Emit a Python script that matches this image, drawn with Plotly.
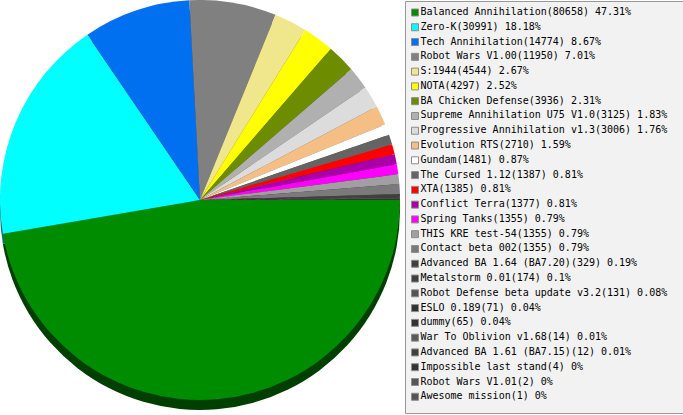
import plotly.graph_objects as go

games = ['Balanced Annihilation', 'Zero-K', 'Tech Annihilation', 'Robot Wars V1.00',
         'S:1944', 'NOTA', 'BA Chicken Defense', 'Supreme Annihilation U75 V1.0',
         'Progressive Annihilation v1.3', 'Evolution RTS', 'Gundam', 'The Cursed 1.12',
         'XTA', 'Conflict Terra', 'Spring Tanks', 'THIS KRE test-54', 'Contact beta 002',
         'Advanced BA 1.64 (BA7.20)', 'Metalstorm 0.01', 'Robot Defense beta update v3.2',
         'ESLO 0.189', 'dummy', 'War To Oblivion v1.68', 'Advanced BA 1.61 (BA7.15)',
         'Impossible last stand', 'Robot Wars V1.01', 'Awesome mission']
counts = [80658, 30991, 14774, 11950, 4544, 4297, 3936, 3125, 3006, 2710, 1481, 1387,
          1385, 1377, 1355, 1355, 1355, 329, 174, 131, 71, 65, 14, 12, 4, 2, 1]
colors = ['#008c00', '#00ffff', '#0070f0', '#808080', '#f0e68c', '#ffff00', '#6e8c00',
          '#b0b0b0', '#dcdcdc', '#f5be85', '#ffffff', '#646464', '#ff0000', '#aa00aa',
          '#ff00ff', '#a0a0a0', '#7a7a7a', '#404040', '#404040', '#555555', '#333333',
          '#333333', '#5a5a5a', '#404040', '#333333', '#555555', '#555555']


def darken(c, f=0.45):
    r, g, b = (int(c[i:i + 2], 16) for i in (1, 3, 5))
    return '#%02x%02x%02x' % (int(r * f), int(g * f), int(b * f))


total = sum(counts)
labels = ['%s(%d) %s%%' % (g, n, format(round(n / total * 100, 2), 'g'))
          for g, n in zip(games, counts)]

W, H = 683, 415
pie_top = [15 / H, 1]
shift = 10 / H

fig = go.Figure()

# fake 3d edge: darker copy of the pie a few px lower
fig.add_trace(go.Pie(values=counts, labels=games, sort=False, direction='clockwise',
                     rotation=90, marker=dict(colors=[darken(c) for c in colors],
                                              line=dict(width=0)),
                     textinfo='none', hoverinfo='skip', showlegend=False,
                     domain=dict(x=[0, 400 / W], y=[pie_top[0] - shift, pie_top[1] - shift])))
fig.add_trace(go.Pie(values=counts, labels=games, sort=False, direction='clockwise',
                     rotation=90, marker=dict(colors=colors, line=dict(width=0)),
                     textinfo='none', showlegend=False,
                     domain=dict(x=[0, 400 / W], y=pie_top)))

# legend drawn as a scatter so rows can be packed tighter than plotly's legend allows
rows = list(range(len(games)))
fig.add_trace(go.Scatter(x=[415] * len(rows), y=[-r for r in rows], mode='markers+text',
                         marker=dict(symbol='square', size=7, color=colors,
                                     line=dict(width=1, color='#8c8c8c')),
                         text=labels, textposition='middle right',
                         textfont=dict(family='DejaVu Sans Mono', size=10, color='#000000'),
                         hoverinfo='skip', showlegend=False, cliponaxis=False))

step = 14.78
top = 12.5 / step
fig.update_xaxes(range=[0, W], visible=False, fixedrange=True)
fig.update_yaxes(range=[top - H / step, top], visible=False, fixedrange=True)

fig.add_shape(type='rect', xref='paper', yref='paper', layer='below',
              x0=405.5 / W, x1=1.01, y0=1 - 413.5 / H, y1=1 - 1.5 / H,
              fillcolor='#f2f2f2', line=dict(color='#999999', width=1))

fig.update_layout(width=W, height=H, margin=dict(l=0, r=0, t=0, b=0),
                  paper_bgcolor='white', plot_bgcolor='rgba(0,0,0,0)')

# page has a default 8px body margin, drop it so the chart sits at 0,0
fig.write_html("out.html", config={'displayModeBar': False},
               post_script="document.body.style.margin='0';")
